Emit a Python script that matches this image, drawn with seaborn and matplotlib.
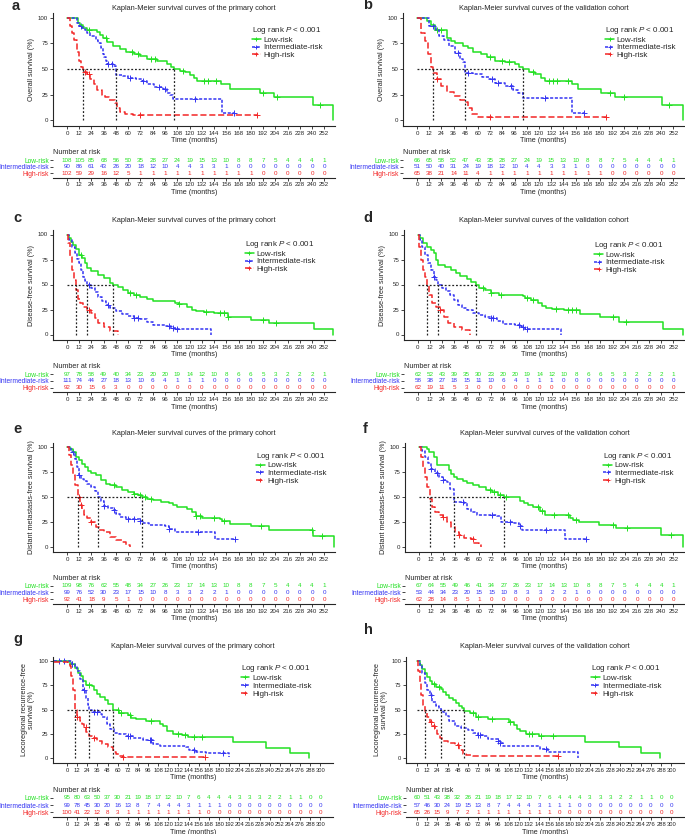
import numpy as np
import matplotlib
matplotlib.use("Agg")
import matplotlib.pyplot as plt
from matplotlib.lines import Line2D
import seaborn as sns

GROUPS = ["Low-risk", "Intermediate-risk", "High-risk"]
TICKS_252 = list(range(0, 253, 12))
TICKS_300 = list(range(0, 301, 12))

# ---- a: overall survival, primary cohort
A_LOW_T = [0, 11, 13, 16, 20, 29, 32, 35, 39, 45, 52, 58, 66, 72, 78, 88, 98, 102, 105, 111, 116, 120, 124, 127, 151, 160, 189, 203, 241, 261]
A_LOW_S = [100, 95, 93, 90, 88, 86, 83, 80, 76, 72, 69, 67, 65, 63, 60, 58, 55, 52, 50, 48, 47, 44, 41, 38, 35, 31, 27, 23, 15, 0]
A_LOW_C = [22, 38, 64, 70, 82, 86, 114, 134, 138, 146, 192, 206, 248]
A_INT_T = [0, 10, 12, 15, 18, 20, 23, 28, 30, 33, 35, 36, 38, 39, 45, 48, 55, 60, 68, 73, 78, 85, 94, 98, 101, 104, 152, 164]
A_INT_S = [100, 95, 92, 90, 88, 85, 82, 78, 75, 70, 65, 62, 58, 55, 53, 44, 43, 41, 40, 38, 35, 32, 31, 27, 25, 21, 7, 7]
A_INT_C = [14, 40, 44, 62, 74, 90, 96, 125, 164]
A_HIGH_T = [0, 3, 5, 7, 10, 12, 14, 16, 20, 23, 26, 29, 34, 37, 41, 47, 49, 52, 57, 65, 186]
A_HIGH_S = [100, 92, 85, 78, 67, 58, 52, 47, 45, 40, 35, 30, 25, 23, 20, 17, 12, 8, 6, 5, 5]
A_HIGH_C = [18, 22, 72, 186]
A_RISK_LOW = [108, 105, 85, 68, 56, 50, 35, 28, 27, 24, 19, 15, 13, 10, 8, 8, 7, 5, 4, 4, 4, 1]
A_RISK_INT = [90, 86, 61, 43, 26, 20, 18, 12, 10, 4, 4, 3, 3, 1, 0, 0, 0, 0, 0, 0, 0, 0]
A_RISK_HIGH = [102, 59, 29, 16, 12, 5, 1, 1, 1, 1, 1, 1, 1, 1, 1, 1, 0, 0, 0, 0, 0, 0]

# ---- b: overall survival, validation cohort
B_LOW_T = [0, 10, 14, 18, 30, 33, 37, 45, 50, 55, 63, 69, 77, 87, 96, 100, 104, 110, 116, 122, 126, 152, 158, 181, 195, 241, 262]
B_LOW_S = [100, 97, 93, 88, 80, 77, 75, 72, 70, 67, 65, 62, 58, 57, 55, 52, 50, 47, 45, 41, 38, 35, 31, 27, 23, 15, 0]
B_LOW_C = [20, 24, 72, 84, 90, 114, 130, 134, 138, 148, 190, 204, 248]
B_INT_T = [0, 12, 19, 22, 27, 32, 37, 42, 45, 47, 55, 64, 71, 77, 87, 94, 99, 104, 152, 164]
B_INT_S = [100, 92, 88, 82, 78, 72, 66, 60, 57, 46, 45, 42, 40, 36, 33, 30, 27, 22, 7, 7]
B_INT_C = [16, 40, 50, 74, 80, 92, 126, 164]
B_HIGH_T = [0, 4, 8, 11, 14, 16, 20, 24, 30, 36, 42, 48, 50, 54, 60, 186]
B_HIGH_S = [100, 85, 77, 65, 52, 46, 40, 33, 28, 24, 20, 18, 12, 6, 3, 3]
B_HIGH_C = [20, 72, 186]
B_RISK_LOW = [66, 65, 58, 52, 47, 43, 35, 28, 27, 24, 19, 15, 13, 10, 8, 8, 7, 5, 4, 4, 4, 1]
B_RISK_INT = [51, 50, 40, 31, 24, 19, 18, 12, 10, 4, 4, 3, 3, 1, 0, 0, 0, 0, 0, 0, 0, 0]
B_RISK_HIGH = [65, 38, 21, 14, 11, 4, 1, 1, 1, 1, 1, 1, 1, 1, 1, 1, 0, 0, 0, 0, 0, 0]

# ---- c: disease-free survival, primary cohort
C_LOW_T = [0, 2, 4, 6, 9, 12, 15, 18, 20, 24, 30, 36, 42, 45, 50, 55, 60, 66, 72, 78, 84, 106, 110, 118, 122, 126, 134, 144, 158, 180, 198, 242, 261]
C_LOW_S = [100, 97, 93, 90, 86, 80, 77, 72, 67, 64, 60, 57, 52, 50, 48, 45, 42, 40, 38, 36, 34, 32, 31, 28, 25, 24, 23, 22, 18, 15, 12, 6, 0]
C_LOW_C = [14, 62, 68, 110, 136, 150, 154, 158, 192, 205]
C_INT_T = [0, 2, 5, 8, 10, 12, 14, 16, 18, 20, 24, 27, 30, 34, 38, 42, 48, 54, 60, 66, 72, 78, 84, 96, 102, 108, 141]
C_INT_S = [100, 95, 88, 82, 76, 72, 65, 58, 54, 50, 47, 43, 38, 34, 30, 27, 24, 21, 19, 17, 16, 13, 10, 9, 7, 6, 0]
C_INT_C = [22, 40, 66, 70, 100, 104, 108]
C_HIGH_T = [0, 1, 3, 5, 7, 9, 11, 13, 16, 20, 24, 27, 30, 36, 42, 50]
C_HIGH_S = [100, 92, 78, 65, 55, 45, 36, 32, 28, 25, 22, 17, 12, 8, 4, 0]
C_HIGH_C = [22]
C_RISK_LOW = [97, 78, 58, 49, 40, 34, 23, 20, 20, 19, 14, 12, 10, 8, 6, 6, 5, 3, 2, 2, 2, 1]
C_RISK_INT = [111, 74, 44, 27, 18, 13, 10, 6, 4, 1, 1, 1, 0, 0, 0, 0, 0, 0, 0, 0, 0, 0]
C_RISK_HIGH = [92, 30, 15, 6, 3, 0, 0, 0, 0, 0, 0, 0, 0, 0, 0, 0, 0, 0, 0, 0, 0, 0]

# ---- d: disease-free survival, validation cohort
D_LOW_T = [0, 2, 5, 9, 13, 16, 18, 20, 27, 33, 38, 42, 48, 52, 57, 60, 66, 72, 80, 104, 106, 112, 118, 122, 126, 132, 144, 160, 180, 198, 242, 262]
D_LOW_S = [100, 97, 92, 88, 85, 82, 75, 70, 68, 65, 62, 59, 56, 53, 50, 47, 45, 42, 40, 39, 37, 35, 32, 29, 27, 26, 25, 21, 18, 13, 6, 0]
D_LOW_C = [64, 72, 82, 108, 114, 136, 148, 152, 156, 192, 205]
D_INT_T = [0, 2, 4, 7, 10, 13, 16, 18, 20, 24, 28, 32, 36, 40, 44, 48, 54, 60, 66, 72, 78, 84, 96, 102, 106, 141]
D_INT_S = [100, 95, 88, 80, 72, 65, 58, 55, 50, 47, 44, 40, 35, 30, 27, 25, 22, 20, 18, 17, 14, 11, 10, 8, 6, 0]
D_INT_C = [16, 72, 74, 100, 104, 108]
D_HIGH_T = [0, 1, 3, 5, 7, 9, 11, 14, 18, 22, 26, 30, 36, 44, 51]
D_HIGH_S = [100, 88, 75, 65, 58, 50, 40, 32, 28, 25, 18, 12, 8, 5, 0]
D_HIGH_C = [22]
D_RISK_LOW = [62, 52, 43, 39, 35, 30, 23, 20, 20, 19, 14, 12, 10, 8, 6, 6, 5, 3, 2, 2, 2, 1]
D_RISK_INT = [58, 38, 27, 18, 15, 11, 10, 6, 4, 1, 1, 1, 0, 0, 0, 0, 0, 0, 0, 0, 0, 0]
D_RISK_HIGH = [62, 19, 11, 5, 3, 0, 0, 0, 0, 0, 0, 0, 0, 0, 0, 0, 0, 0, 0, 0, 0, 0]

# ---- e: distant metastasis-free survival, primary cohort
E_LOW_T = [0, 3, 6, 9, 12, 15, 18, 21, 24, 28, 33, 38, 42, 48, 54, 60, 66, 70, 73, 78, 84, 92, 100, 104, 108, 118, 122, 126, 132, 150, 152, 160, 180, 198, 241, 262]
E_LOW_S = [100, 98, 95, 90, 87, 83, 80, 76, 74, 72, 67, 63, 62, 60, 57, 55, 53, 52, 50, 48, 47, 45, 44, 42, 40, 38, 35, 31, 29, 28, 26, 23, 21, 17, 11, 0]
E_LOW_C = [46, 66, 72, 76, 82, 126, 130, 144, 154, 190, 240, 250]
E_INT_T = [0, 4, 8, 10, 12, 14, 17, 20, 24, 27, 30, 33, 36, 40, 45, 48, 52, 58, 72, 74, 80, 96, 100, 106, 145, 165]
E_INT_S = [100, 95, 88, 80, 72, 68, 66, 63, 60, 56, 50, 46, 41, 39, 37, 33, 30, 28, 26, 24, 22, 21, 18, 15, 8, 8]
E_INT_C = [6, 12, 36, 46, 60, 66, 72, 100, 128, 165]
E_HIGH_T = [0, 2, 4, 6, 8, 11, 13, 15, 17, 20, 24, 28, 31, 36, 42, 48, 54, 58, 62]
E_HIGH_S = [100, 92, 82, 72, 62, 50, 42, 37, 32, 29, 25, 20, 17, 15, 10, 7, 5, 2, 0]
E_HIGH_C = [12, 14, 24]
E_RISK_LOW = [109, 98, 76, 62, 55, 48, 34, 27, 26, 23, 17, 14, 13, 10, 8, 8, 7, 5, 4, 4, 4, 1]
E_RISK_INT = [99, 76, 52, 30, 23, 17, 15, 10, 8, 3, 3, 2, 2, 1, 0, 0, 0, 0, 0, 0, 0, 0]
E_RISK_HIGH = [92, 41, 18, 9, 5, 1, 0, 0, 0, 0, 0, 0, 0, 0, 0, 0, 0, 0, 0, 0, 0, 0]

# ---- f: distant metastasis-free survival, validation cohort
F_LOW_T = [0, 8, 10, 15, 18, 30, 32, 35, 38, 44, 48, 54, 60, 66, 72, 78, 84, 100, 104, 108, 113, 120, 125, 150, 153, 159, 178, 195, 240, 262]
F_LOW_S = [100, 98, 95, 90, 82, 77, 73, 70, 68, 66, 64, 62, 60, 57, 55, 52, 50, 46, 44, 42, 40, 36, 32, 29, 27, 25, 22, 19, 12, 0]
F_LOW_C = [70, 74, 80, 86, 118, 122, 134, 148, 156, 192, 206, 250]
F_INT_T = [0, 3, 6, 9, 12, 16, 20, 24, 28, 31, 35, 45, 48, 52, 58, 77, 81, 94, 99, 102, 145, 165]
F_INT_S = [100, 96, 90, 84, 78, 74, 70, 67, 65, 58, 45, 44, 38, 35, 32, 31, 25, 24, 21, 17, 8, 8]
F_INT_C = [12, 18, 24, 44, 72, 90, 100, 126, 165]
F_HIGH_T = [0, 2, 4, 6, 8, 11, 13, 16, 20, 24, 28, 32, 36, 40, 45, 52, 55, 60, 62]
F_HIGH_S = [100, 90, 80, 70, 60, 48, 40, 35, 32, 30, 25, 20, 15, 12, 9, 8, 4, 2, 0]
F_HIGH_C = [24, 40, 54]
F_RISK_LOW = [67, 64, 55, 49, 46, 41, 34, 27, 26, 23, 17, 14, 13, 10, 8, 8, 7, 5, 4, 4, 4, 1]
F_RISK_INT = [53, 44, 34, 23, 20, 15, 15, 10, 8, 3, 3, 2, 2, 1, 0, 0, 0, 0, 0, 0, 0, 0]
F_RISK_HIGH = [62, 28, 14, 8, 5, 1, 0, 0, 0, 0, 0, 0, 0, 0, 0, 0, 0, 0, 0, 0, 0, 0]

# ---- g: locoregional recurrence-free survival, primary cohort (curves start left of 0)
G_LOW_T = [-16, 3, 9, 13, 17, 19, 23, 29, 32, 35, 39, 45, 49, 54, 62, 72, 76, 82, 94, 110, 114, 118, 126, 136, 143, 197, 236, 264, 287]
G_LOW_S = [100, 97, 93, 88, 85, 80, 75, 74, 70, 66, 63, 60, 56, 50, 46, 44, 41, 40, 38, 35, 33, 28, 25, 24, 21, 16, 10, 5, 0]
G_LOW_C = [6, 26, 60, 64, 74, 100, 132, 140, 150, 160]
G_INT_T = [-16, 6, 9, 12, 15, 19, 22, 25, 26, 29, 39, 41, 47, 51, 56, 62, 70, 78, 90, 102, 110, 141, 145, 153, 165, 192]
G_INT_S = [100, 97, 94, 90, 82, 70, 62, 55, 50, 47, 45, 42, 35, 30, 26, 25, 22, 20, 18, 14, 12, 11, 8, 6, 5, 1]
G_INT_C = [-10, -4, 6, 20, 32, 36, 72, 74, 98, 100, 150, 185]
G_HIGH_T = [-16, 1, 3, 5, 7, 9, 12, 15, 18, 20, 23, 26, 30, 36, 42, 48, 54, 58, 62, 66, 164]
G_HIGH_S = [99, 98, 95, 85, 70, 50, 42, 38, 35, 32, 27, 23, 20, 17, 14, 11, 6, 4, 2, 1, 1]
G_HIGH_C = [12, 22, 32, 66, 164]
G_RISK_LOW = [95, 80, 63, 50, 37, 30, 21, 19, 18, 17, 12, 10, 7, 6, 4, 4, 4, 3, 3, 3, 2, 2, 1, 1, 0, 0]
G_RISK_INT = [99, 78, 45, 30, 20, 16, 13, 8, 7, 4, 4, 4, 3, 1, 1, 1, 0, 0, 0, 0, 0, 0, 0, 0, 0, 0]
G_RISK_HIGH = [100, 41, 22, 12, 8, 3, 1, 1, 1, 1, 1, 1, 1, 1, 0, 0, 0, 0, 0, 0, 0, 0, 0, 0, 0, 0]

# ---- h: locoregional recurrence-free survival, validation cohort
H_LOW_T = [0, 3, 6, 9, 12, 15, 18, 22, 28, 31, 34, 38, 42, 46, 50, 53, 56, 62, 70, 84, 108, 114, 118, 122, 128, 144, 198, 238, 264, 287]
H_LOW_S = [100, 96, 92, 88, 84, 80, 76, 73, 71, 68, 65, 62, 60, 57, 54, 52, 48, 46, 42, 40, 37, 34, 30, 28, 25, 22, 16, 11, 5, 0]
H_LOW_C = [20, 26, 66, 72, 88, 110, 132, 136, 146, 160]
H_INT_T = [0, 3, 6, 9, 12, 15, 18, 22, 26, 28, 31, 34, 38, 45, 52, 60, 66, 72, 78, 84, 96, 98, 102, 145, 155, 190]
H_INT_S = [100, 95, 88, 78, 70, 65, 58, 54, 52, 50, 47, 43, 38, 33, 31, 29, 26, 24, 22, 19, 17, 15, 12, 9, 6, 0]
H_INT_C = [16, 72, 74, 96, 98, 152]
H_HIGH_T = [0, 1, 3, 5, 7, 10, 12, 15, 18, 21, 24, 27, 30, 36, 45, 50, 54, 58, 66, 166]
H_HIGH_S = [100, 90, 78, 65, 55, 48, 42, 37, 33, 30, 25, 20, 17, 15, 13, 8, 4, 3, 2, 2]
H_HIGH_C = [16, 20, 48, 166]
H_RISK_LOW = [60, 51, 43, 38, 32, 26, 21, 19, 18, 17, 12, 10, 7, 6, 4, 4, 4, 3, 3, 3, 2, 2, 1, 1, 0, 0]
H_RISK_INT = [57, 46, 30, 24, 19, 15, 13, 8, 7, 4, 4, 4, 3, 1, 1, 1, 0, 0, 0, 0, 0, 0, 0, 0, 0, 0]
H_RISK_HIGH = [65, 26, 15, 9, 7, 2, 1, 1, 1, 1, 1, 1, 1, 1, 0, 0, 0, 0, 0, 0, 0, 0, 0, 0, 0, 0]

COLORS = {"Low-risk": "#22e022", "Intermediate-risk": "#3434f2", "High-risk": "#f22626"}
LINESTYLES = {"Low-risk": "-", "Intermediate-risk": (0, (2.0, 1.1)), "High-risk": (0, (4.0, 1.8))}

PRIMARY = "Kaplan-Meier survival curves of the primary cohort"
VALIDATION = "Kaplan-Meier survival curves of the validation cohort"

PANELS = [
    dict(letter="a", title=PRIMARY, ylabel="Overall survival (%)",
         curves=[(A_LOW_T, A_LOW_S, A_LOW_C), (A_INT_T, A_INT_S, A_INT_C), (A_HIGH_T, A_HIGH_S, A_HIGH_C)],
         risk=[A_RISK_LOW, A_RISK_INT, A_RISK_HIGH], ticks=TICKS_252, xlim=(-13.7, 262.5),
         plot=(53, 13, 335, 126), table=(53, 157.4, 335, 177.6), lpos=(12, 10), tpad=2.5, leg=(0.705, 0.895)),
    dict(letter="b", title=VALIDATION, ylabel="Overall survival (%)",
         curves=[(B_LOW_T, B_LOW_S, B_LOW_C), (B_INT_T, B_INT_S, B_INT_C), (B_HIGH_T, B_HIGH_S, B_HIGH_C)],
         risk=[B_RISK_LOW, B_RISK_INT, B_RISK_HIGH], ticks=TICKS_252, xlim=(-13.7, 262.5),
         plot=(403, 13, 684, 126), table=(403, 157.4, 684, 177.6), lpos=(363, 9), tpad=2.5, leg=(0.72, 0.895)),
    dict(letter="c", title=PRIMARY, ylabel="Disease-free survival (%)",
         curves=[(C_LOW_T, C_LOW_S, C_LOW_C), (C_INT_T, C_INT_S, C_INT_C), (C_HIGH_T, C_HIGH_S, C_HIGH_C)],
         risk=[C_RISK_LOW, C_RISK_INT, C_RISK_HIGH], ticks=TICKS_252, xlim=(-13.7, 262.5),
         plot=(53, 230, 335, 340), table=(53, 371.3, 335, 392.4), lpos=(13, 222), tpad=6, leg=(0.68, 0.92)),
    dict(letter="d", title=VALIDATION, ylabel="Disease-free survival (%)",
         curves=[(D_LOW_T, D_LOW_S, D_LOW_C), (D_INT_T, D_INT_S, D_INT_C), (D_HIGH_T, D_HIGH_S, D_HIGH_C)],
         risk=[D_RISK_LOW, D_RISK_INT, D_RISK_HIGH], ticks=TICKS_252, xlim=(-13.7, 262.5),
         plot=(404, 230, 684, 340), table=(404, 371.3, 684, 392.4), lpos=(363, 222), tpad=6, leg=(0.68, 0.91)),
    dict(letter="e", title=PRIMARY, ylabel="Distant metastasis-free survival (%)",
         curves=[(E_LOW_T, E_LOW_S, E_LOW_C), (E_INT_T, E_INT_S, E_INT_C), (E_HIGH_T, E_HIGH_S, E_HIGH_C)],
         risk=[E_RISK_LOW, E_RISK_INT, E_RISK_HIGH], ticks=TICKS_252, xlim=(-13.7, 262.5),
         plot=(53, 443, 335, 552), table=(53, 583, 335, 603.7), lpos=(13, 433), tpad=6, leg=(0.72, 0.93)),
    dict(letter="f", title=VALIDATION, ylabel="Distant metastasis-free survival (%)",
         curves=[(F_LOW_T, F_LOW_S, F_LOW_C), (F_INT_T, F_INT_S, F_INT_C), (F_HIGH_T, F_HIGH_S, F_HIGH_C)],
         risk=[F_RISK_LOW, F_RISK_INT, F_RISK_HIGH], ticks=TICKS_252, xlim=(-13.7, 262.5),
         plot=(405, 443, 684, 552), table=(405, 583, 684, 603.7), lpos=(363, 433), tpad=6, leg=(0.71, 0.93)),
    dict(letter="g", title=PRIMARY, ylabel="Locoregional recurrence-free\nsurvival (%)",
         curves=[(G_LOW_T, G_LOW_S, G_LOW_C), (G_INT_T, G_INT_S, G_INT_C), (G_HIGH_T, G_HIGH_S, G_HIGH_C)],
         risk=[G_RISK_LOW, G_RISK_INT, G_RISK_HIGH], ticks=TICKS_300, xlim=(-16.6, 315),
         plot=(53, 657, 333, 763), table=(53, 795, 333, 817.4), lpos=(13, 643), tpad=6.5, leg=(0.67, 0.94)),
    dict(letter="h", title=VALIDATION, ylabel="Locoregional recurrence-free\nsurvival (%)",
         curves=[(H_LOW_T, H_LOW_S, H_LOW_C), (H_INT_T, H_INT_S, H_INT_C), (H_HIGH_T, H_HIGH_S, H_HIGH_C)],
         risk=[H_RISK_LOW, H_RISK_INT, H_RISK_HIGH], ticks=TICKS_300, xlim=(-13, 315),
         plot=(406, 657, 684, 763), table=(406, 795, 684, 817.4), lpos=(364, 634), tpad=6.5, leg=(0.665, 0.94)),
]

sns.set_style("ticks")
plt.rcParams["font.family"] = ["Liberation Sans", "DejaVu Sans"]
plt.rcParams["mathtext.fontset"] = "custom"
plt.rcParams["mathtext.it"] = "Liberation Sans:italic"
plt.rcParams["mathtext.rm"] = "Liberation Sans"
plt.rcParams["axes.linewidth"] = 0.8

W, H = 685, 834
fig = plt.figure(figsize=(W / 100, H / 100), dpi=100)


def rect(left, top, right, bottom):
    return [left / W, 1 - bottom / H, (right - left) / W, (bottom - top) / H]


def step_at(t, s, x):
    i = np.searchsorted(t, x, side="right") - 1
    return s[max(i, 0)]


for p in PANELS:
    ax = fig.add_axes(rect(*p["plot"]))
    medians = []
    for g, (t, s, cens) in zip(GROUPS, p["curves"]):
        sns.lineplot(x=t, y=s, ax=ax, color=COLORS[g], linestyle=LINESTYLES[g], lw=1.1,
                     drawstyle="steps-post", estimator=None, sort=False)
        cy = [step_at(t, s, c) for c in cens]
        sns.scatterplot(x=cens, y=cy, ax=ax, marker="+", s=14, color=COLORS[g], linewidth=0.7, legend=False)
        medians.append(t[int(np.argmax(np.array(s) <= 50))])

    # median survival guide lines
    ax.plot([0, max(medians)], [50, 50], color="#222222", ls=(0, (1.5, 1.5)), lw=0.9)
    for m in medians:
        ax.plot([m, m], [0, 50], color="#222222", ls=(0, (1.5, 1.5)), lw=0.9)

    ax.set_xlim(*p["xlim"])
    ax.set_ylim(-5.5, 104.5)
    ax.set_xticks(p["ticks"])
    ax.set_yticks([0, 25, 50, 75, 100])
    fs_tick = 4.2 if p["ticks"] is TICKS_300 else 4.4
    ax.tick_params(labelsize=fs_tick, length=2, width=0.6, pad=1.5)
    ax.set_xlabel("Time (months)", fontsize=5.2, labelpad=1)
    ax.set_ylabel(p["ylabel"], fontsize=5.2, labelpad=2, linespacing=1.1)
    ax.set_title(p["title"], fontsize=5.3, pad=p["tpad"])
    sns.despine(ax=ax)

    handles = [Line2D([], [], color=COLORS[g], ls=LINESTYLES[g], lw=1.1, marker="+", ms=3.5, mew=0.7)
               for g in GROUPS]
    ax.legend(handles, GROUPS, title="Log rank $\\mathit{P}$ < 0.001", loc="upper left",
              bbox_to_anchor=p["leg"], frameon=False, fontsize=5.8, title_fontsize=5.8,
              handlelength=1.1, handletextpad=0.3, labelspacing=0.02, borderpad=0,
              borderaxespad=0, alignment="left")

    # number-at-risk table
    tx = fig.add_axes(rect(*p["table"]))
    tx.set_xlim(*p["xlim"])
    tx.set_ylim(2.7, -0.4)
    for i, g in enumerate(GROUPS):
        for tt, n in zip(p["ticks"], p["risk"][i]):
            tx.text(tt, i, str(n), color=COLORS[g], ha="center", va="center", fontsize=4.5)
    tx.set_yticks([0, 1, 2])
    tx.set_yticklabels(GROUPS)
    for lab, g in zip(tx.get_yticklabels(), GROUPS):
        lab.set_color(COLORS[g])
    tx.set_xticks(p["ticks"])
    tx.tick_params(labelsize=fs_tick, length=2, width=0.6, pad=1.5)
    tx.tick_params(axis="y", labelsize=4.8, pad=0.8)
    for side in ["top", "right", "left"]:
        tx.spines[side].set_visible(False)
    tx.set_xlabel("Time (months)", fontsize=5.2, labelpad=1)
    tx.set_title("Number at risk", loc="left", fontsize=5.2, pad=2.5)

    fig.text(p["lpos"][0] / W, 1 - p["lpos"][1] / H, p["letter"], fontsize=10.5,
             fontweight="bold", ha="left", va="baseline")

fig.savefig("out.png", dpi=100)
